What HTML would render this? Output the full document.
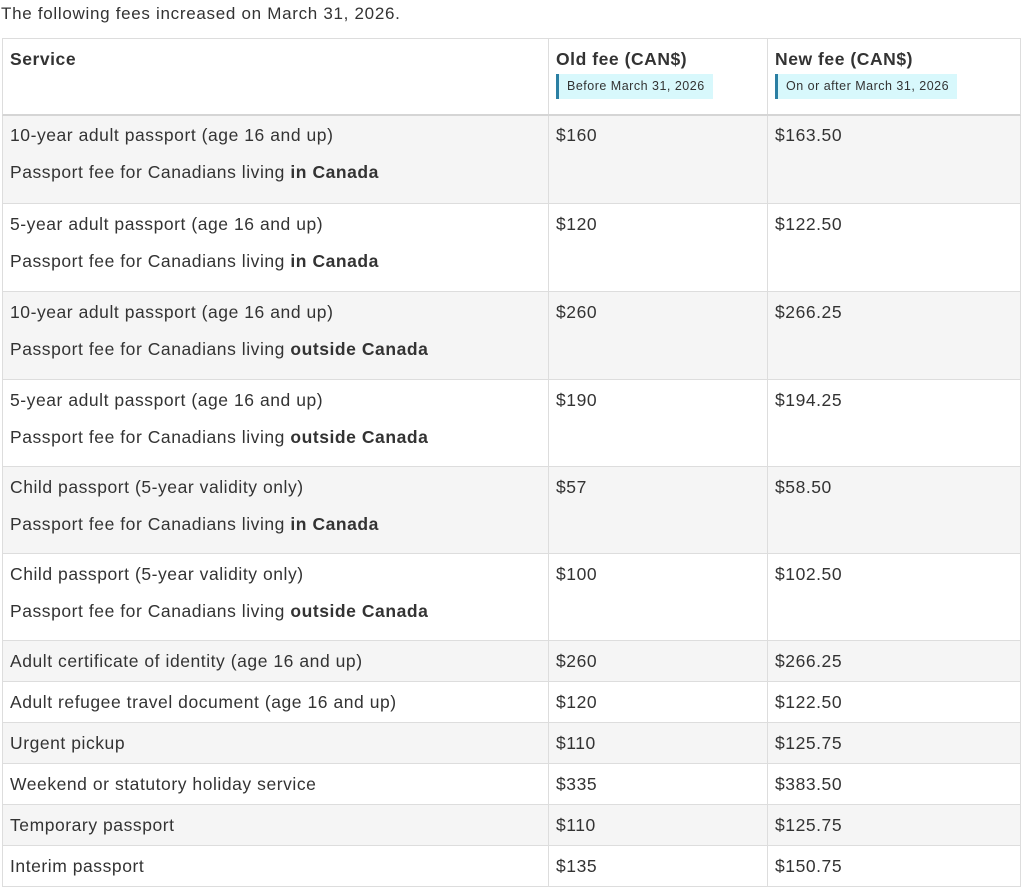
<!DOCTYPE html>
<html><head><style>
body{margin:0;width:1024px;height:892px;background:#fff;font-family:"Liberation Sans",sans-serif;color:#333;position:relative;overflow:hidden}
.cap{position:absolute;left:1px;top:3px;font-size:17px;line-height:22px;letter-spacing:0.7px}
.r{position:absolute;left:2px;width:1019px;border-left:1px solid #ddd;border-right:1px solid #ddd;border-bottom:1px solid #ddd;box-sizing:border-box}
.c{position:absolute;top:0;bottom:0;padding:8px 0 0 7px;box-sizing:border-box;font-size:17.5px;line-height:24px;letter-spacing:0.55px}
.c1{left:0;width:545px}
.c2{left:545px;width:219px;border-left:1px solid #ddd}
.c3{left:764px;width:254px;border-left:1px solid #ddd}
.c p{margin:0 0 13px 0}
.g{background:#f5f5f5}
.badge{display:inline-block;margin-top:3px;background:#d8f8fc;border-left:3px solid #2b7fa3;font-size:12.5px;font-weight:normal;line-height:25px;padding:0 8px 0 8px;letter-spacing:0.5px}
</style></head><body>
<div class="cap">The following fees increased on March 31, 2026.</div>
<div class="r" style="top:38px;height:78px;border-top:1px solid #ddd;border-bottom:2px solid #d5d5d5">
<div class="c c1"><b>Service</b></div>
<div class="c c2"><b>Old fee (CAN$)</b><br><span class="badge">Before March 31, 2026</span></div>
<div class="c c3"><b>New fee (CAN$)</b><br><span class="badge">On or after March 31, 2026</span></div>
</div>
<div class="r g" style="top:116px;height:88px"><div class="c c1" style="padding-top:7px"><p>10-year adult passport (age 16 and up)</p><p>Passport fee for Canadians living <b>in Canada</b></p></div><div class="c c2" style="padding-top:7px">$160</div><div class="c c3" style="padding-top:7px">$163.50</div></div>
<div class="r" style="top:204px;height:88px"><div class="c c1"><p>5-year adult passport (age 16 and up)</p><p>Passport fee for Canadians living <b>in Canada</b></p></div><div class="c c2">$120</div><div class="c c3">$122.50</div></div>
<div class="r g" style="top:292px;height:88px"><div class="c c1"><p>10-year adult passport (age 16 and up)</p><p>Passport fee for Canadians living <b>outside Canada</b></p></div><div class="c c2">$260</div><div class="c c3">$266.25</div></div>
<div class="r" style="top:380px;height:87px"><div class="c c1"><p>5-year adult passport (age 16 and up)</p><p>Passport fee for Canadians living <b>outside Canada</b></p></div><div class="c c2">$190</div><div class="c c3">$194.25</div></div>
<div class="r g" style="top:467px;height:87px"><div class="c c1"><p>Child passport (5-year validity only)</p><p>Passport fee for Canadians living <b>in Canada</b></p></div><div class="c c2">$57</div><div class="c c3">$58.50</div></div>
<div class="r" style="top:554px;height:87px"><div class="c c1"><p>Child passport (5-year validity only)</p><p>Passport fee for Canadians living <b>outside Canada</b></p></div><div class="c c2">$100</div><div class="c c3">$102.50</div></div>
<div class="r g" style="top:641px;height:41px"><div class="c c1">Adult certificate of identity (age 16 and up)</div><div class="c c2">$260</div><div class="c c3">$266.25</div></div>
<div class="r" style="top:682px;height:41px"><div class="c c1">Adult refugee travel document (age 16 and up)</div><div class="c c2">$120</div><div class="c c3">$122.50</div></div>
<div class="r g" style="top:723px;height:41px"><div class="c c1">Urgent pickup</div><div class="c c2">$110</div><div class="c c3">$125.75</div></div>
<div class="r" style="top:764px;height:41px"><div class="c c1">Weekend or statutory holiday service</div><div class="c c2">$335</div><div class="c c3">$383.50</div></div>
<div class="r g" style="top:805px;height:41px"><div class="c c1">Temporary passport</div><div class="c c2">$110</div><div class="c c3">$125.75</div></div>
<div class="r" style="top:846px;height:41px"><div class="c c1">Interim passport</div><div class="c c2">$135</div><div class="c c3">$150.75</div></div>
</body></html>
